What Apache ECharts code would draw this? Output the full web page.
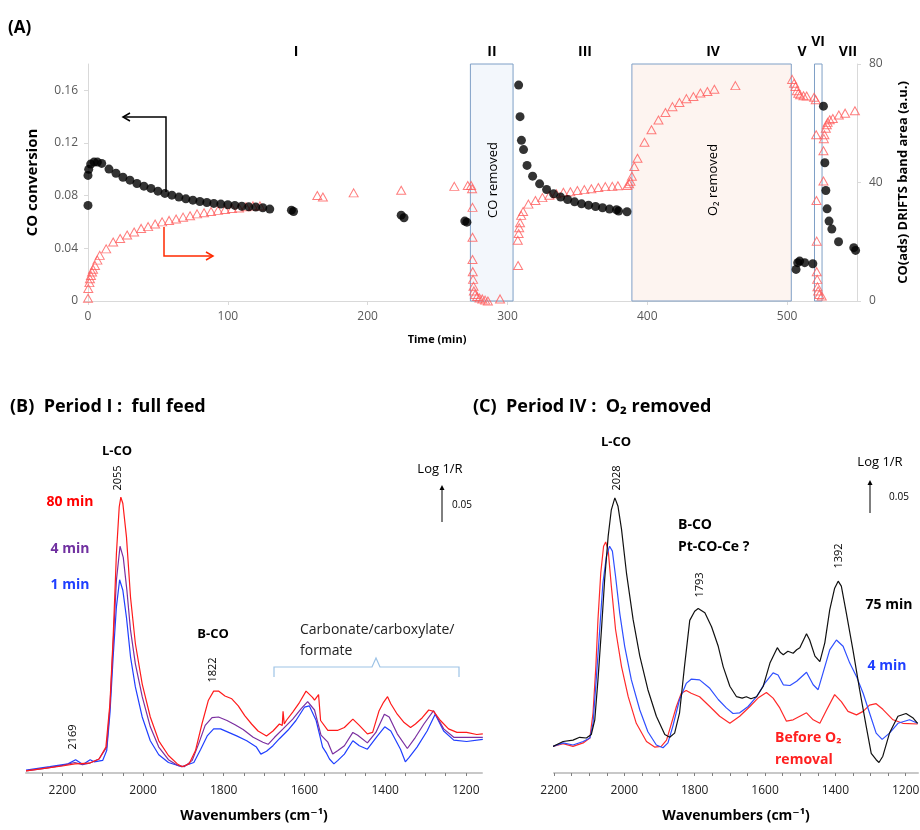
<!DOCTYPE html>
<html>
<head>
<meta charset="utf-8">
<title>CO conversion and DRIFTS spectra</title>
<script src="https://cdn.jsdelivr.net/npm/echarts@6/dist/echarts.min.js"></script>
<style>
  html, body { margin: 0; padding: 0; background: #fff; }
  #chart { width: 920px; height: 830px; }
</style>
</head>
<body>
<div id="chart"></div>
<script>
// ---- (A) transient experiment ----
var convTime = [0, 0, 0.5, 1.9, 4.3, 6.7, 9.8, 15, 20, 25, 30, 35, 40, 45, 50, 55, 60, 65, 70, 75, 80, 85, 90, 95,
  100, 105, 110, 115, 120, 125, 130, 145.5, 147, 224, 226, 269.5, 271, 308, 309, 310, 311.5, 314, 318, 323, 328,
  333, 338, 343, 348, 353, 358, 363, 368, 373, 378, 379.5, 385.5, 506.4, 507.6, 509, 512.6, 518.4, 526, 527,
  527.7, 528.6, 530, 532, 536.8, 547.7, 549]
var convValue = [0.0726, 0.0954, 0.100, 0.104, 0.1055, 0.1055, 0.1045, 0.1002, 0.097, 0.094, 0.0918, 0.0892,
  0.0872, 0.0855, 0.0834, 0.0817, 0.0804, 0.0789, 0.0776, 0.0766, 0.0756, 0.0748, 0.0741, 0.0736, 0.0731, 0.0726,
  0.0720, 0.0715, 0.0713, 0.0708, 0.0698, 0.069, 0.068, 0.0652, 0.0632, 0.0607, 0.0599, 0.164, 0.140, 0.122,
  0.115, 0.103, 0.0948, 0.089, 0.0847, 0.0814, 0.0789, 0.0771, 0.0753, 0.0738, 0.0728, 0.0718, 0.0708, 0.0698,
  0.0693, 0.0683, 0.0678, 0.024, 0.0291, 0.0303, 0.0291, 0.0283, 0.148, 0.105, 0.0839, 0.070, 0.0607, 0.0546,
  0.045, 0.0405, 0.0384]

var adsTime = [0, 0.2, 1, 1.4, 2.1, 2.9, 3.6, 5, 6.7, 8.4, 13, 18, 23, 28, 33, 38, 43, 48, 53, 58, 63, 68, 73, 78,
  83, 88, 93, 98, 103, 108, 113, 118, 123, 164, 168, 190, 224, 262, 271.6, 274, 274.7, 275, 275, 275, 275.2, 275.4,
  275.7, 276, 276.8, 278.3, 280, 282, 284, 286, 294.7, 307.6, 307.4, 308, 308.4, 309, 309.8, 311.2, 315, 320, 325,
  330, 335, 340, 345, 350, 355, 360, 365, 370, 375, 379, 385.7, 387, 388, 389, 390.7, 393, 398, 403, 408, 413, 418,
  423, 428, 433, 438, 443, 448, 463, 503.6, 505, 506, 507, 508, 509.3, 511.7, 514, 519.3, 520.5, 520.8, 521, 521.2,
  521.2, 521.5, 521.7, 522.2, 523, 524.8, 526, 526, 526.3, 526.7, 527.7, 528.4, 529, 530.5, 532.7, 537, 541.5, 548.5]
var adsArea = [0.9, 4.2, 6.2, 7.5, 8.6, 9.8, 10.7, 12.0, 13.8, 15.4, 17.6, 19.9, 21.1, 22.3, 23.3, 24.5, 25.1, 26.0,
  26.7, 27.2, 27.7, 28.3, 28.8, 29.4, 29.8, 30.2, 30.6, 30.9, 31.2, 31.4, 31.8, 32.1, 32.1, 35.6, 35.1, 36.5, 37.4,
  38.7, 39.0, 39.0, 37.9, 31.6, 21.5, 14.0, 9.9, 7.3, 5.0, 3.4, 2.2, 1.5, 1.0, 0.7, 0.3, 0, 0.7, 12.0, 20.5, 22.8,
  24.7, 26.4, 28.9, 30.2, 32.7, 33.9, 34.9, 35.7, 36.2, 36.7, 36.9, 37.3, 37.6, 37.9, 38.3, 38.6, 38.7, 38.9, 39.0,
  39.6, 40.4, 42.1, 45.4, 48.2, 53.6, 57.8, 61.1, 63.6, 65.6, 67.0, 68.3, 69.0, 70.2, 70.7, 71.5, 72.7, 74.8, 73.5,
  72.4, 71.0, 70.1, 69.6, 69.3, 69.2, 68.8, 67.9, 56.1, 33.9, 20.2, 9.9, 7.3, 4.8, 3.4, 2.2, 1.7, 40.5, 50.7, 54.8,
  56.1, 58.3, 59.5, 60.3, 61.2, 61.6, 62.8, 63.4, 64.2]

var coRemoved = [273.5, 304]
var o2Removed = [389, 503]
var periodVI = [519.6, 525]

// ---- (B) Period I : full feed ----
var wnB1 = [2290, 2231, 2186, 2167, 2149, 2131, 2121, 2100, 2090, 2082, 2074, 2066, 2058, 2050, 2041, 2031, 2019,
  2002, 1982, 1961, 1937, 1904, 1874, 1857, 1841, 1825, 1808, 1788, 1768, 1743, 1719, 1708, 1694, 1678, 1662,
  1641, 1621, 1600, 1588, 1571, 1555, 1545, 1538, 1527, 1517, 1501, 1480, 1464, 1444, 1419, 1401, 1386, 1362,
  1350, 1341, 1321, 1296, 1276, 1255, 1230, 1198, 1158]
var absB1 = [0.004, 0.009, 0.013, 0.019, 0.012, 0.019, 0.016, 0.018, 0.032, 0.085, 0.166, 0.237, 0.276, 0.261,
  0.222, 0.166, 0.123, 0.080, 0.046, 0.026, 0.015, 0.009, 0.015, 0.034, 0.053, 0.063, 0.063, 0.058, 0.053, 0.046,
  0.037, 0.027, 0.031, 0.039, 0.049, 0.061, 0.075, 0.094, 0.096, 0.075, 0.037, 0.028, 0.020, 0.013, 0.018, 0.027,
  0.046, 0.039, 0.034, 0.053, 0.066, 0.060, 0.034, 0.016, 0.022, 0.037, 0.060, 0.084, 0.060, 0.047, 0.045, 0.048]

var wnB4 = [2290, 2240, 2200, 2169, 2150, 2133, 2109, 2090, 2082, 2074, 2066, 2057, 2049, 2040, 2031, 2019, 2002,
  1982, 1961, 1937, 1915, 1898, 1878, 1862, 1846, 1829, 1813, 1792, 1772, 1752, 1727, 1703, 1690, 1674, 1653,
  1629, 1608, 1592, 1575, 1559, 1542, 1530, 1517, 1501, 1480, 1468, 1444, 1423, 1402, 1390, 1370, 1345, 1325,
  1304, 1280, 1255, 1230, 1198, 1158]
var absB4 = [0.003, 0.007, 0.011, 0.015, 0.012, 0.014, 0.020, 0.037, 0.094, 0.185, 0.275, 0.324, 0.308, 0.261,
  0.204, 0.156, 0.109, 0.066, 0.037, 0.019, 0.011, 0.009, 0.018, 0.042, 0.068, 0.079, 0.080, 0.075, 0.069, 0.062,
  0.051, 0.044, 0.041, 0.051, 0.063, 0.077, 0.092, 0.102, 0.090, 0.054, 0.044, 0.027, 0.032, 0.039, 0.058, 0.054,
  0.043, 0.058, 0.084, 0.080, 0.056, 0.035, 0.051, 0.070, 0.089, 0.063, 0.051, 0.051, 0.051]

var wnB80 = [2290, 2240, 2200, 2169, 2133, 2109, 2092, 2082, 2074, 2066, 2059, 2055, 2050, 2041, 2031, 2019, 2002,
  1982, 1961, 1937, 1915, 1903, 1886, 1870, 1854, 1838, 1825, 1813, 1797, 1780, 1764, 1748, 1731, 1715, 1694,
  1678, 1662, 1655, 1653, 1650, 1645, 1629, 1612, 1596, 1580, 1575, 1565, 1560, 1542, 1517, 1501, 1480, 1464,
  1444, 1431, 1415, 1404, 1394, 1386, 1370, 1353, 1337, 1325, 1308, 1292, 1280, 1263, 1243, 1222, 1198, 1173, 1158]
var absB80 = [0.003, 0.007, 0.010, 0.013, 0.014, 0.020, 0.037, 0.099, 0.194, 0.313, 0.380, 0.394, 0.385, 0.337,
  0.251, 0.185, 0.127, 0.080, 0.046, 0.025, 0.013, 0.009, 0.013, 0.032, 0.070, 0.104, 0.117, 0.117, 0.110, 0.106,
  0.096, 0.082, 0.070, 0.060, 0.053, 0.060, 0.070, 0.068, 0.088, 0.070, 0.075, 0.087, 0.101, 0.117, 0.108, 0.104,
  0.112, 0.075, 0.061, 0.061, 0.065, 0.077, 0.068, 0.056, 0.058, 0.089, 0.101, 0.109, 0.099, 0.084, 0.072, 0.065,
  0.070, 0.079, 0.090, 0.088, 0.075, 0.063, 0.058, 0.058, 0.055, 0.056]

// ---- (C) Period IV : O2 removed ----
var wnC75 = [2203, 2174, 2146, 2127, 2108, 2094, 2084, 2075, 2065, 2056, 2046, 2037, 2027, 2018, 2008, 1994, 1975,
  1956, 1933, 1909, 1885, 1871, 1857, 1843, 1829, 1814, 1800, 1790, 1771, 1752, 1733, 1719, 1700, 1681, 1665,
  1653, 1640, 1624, 1605, 1586, 1565, 1556, 1548, 1535, 1520, 1510, 1501, 1482, 1473, 1458, 1444, 1430, 1416,
  1402, 1392, 1383, 1369, 1350, 1331, 1312, 1298, 1284, 1276, 1265, 1246, 1222, 1199, 1180, 1166]
var absC75 = [0.038, 0.045, 0.047, 0.051, 0.050, 0.055, 0.076, 0.133, 0.205, 0.276, 0.338, 0.376, 0.393, 0.381,
  0.348, 0.286, 0.219, 0.167, 0.119, 0.081, 0.055, 0.051, 0.057, 0.086, 0.152, 0.218, 0.231, 0.235, 0.229, 0.209,
  0.181, 0.152, 0.124, 0.109, 0.107, 0.109, 0.106, 0.109, 0.124, 0.157, 0.179, 0.172, 0.169, 0.174, 0.171, 0.176,
  0.179, 0.199, 0.190, 0.167, 0.159, 0.186, 0.233, 0.264, 0.274, 0.267, 0.229, 0.176, 0.119, 0.066, 0.028, 0.019,
  0.015, 0.024, 0.057, 0.081, 0.085, 0.079, 0.071]

var wnC4 = [2203, 2174, 2146, 2117, 2098, 2089, 2080, 2070, 2061, 2051, 2042, 2034, 2025, 2013, 1999, 1980, 1956,
  1933, 1909, 1890, 1876, 1862, 1843, 1824, 1810, 1786, 1757, 1733, 1710, 1691, 1672, 1648, 1624, 1601, 1577,
  1563, 1548, 1529, 1510, 1482, 1463, 1449, 1435, 1416, 1397, 1378, 1359, 1340, 1321, 1303, 1284, 1267, 1246,
  1222, 1189, 1166]
var absC4 = [0.038, 0.043, 0.040, 0.045, 0.050, 0.071, 0.133, 0.205, 0.271, 0.309, 0.324, 0.317, 0.281, 0.228,
  0.181, 0.133, 0.090, 0.059, 0.040, 0.036, 0.043, 0.067, 0.105, 0.128, 0.134, 0.133, 0.121, 0.105, 0.093, 0.085,
  0.086, 0.095, 0.109, 0.128, 0.143, 0.140, 0.126, 0.125, 0.131, 0.144, 0.126, 0.119, 0.143, 0.176, 0.190, 0.181,
  0.157, 0.138, 0.114, 0.086, 0.057, 0.048, 0.057, 0.071, 0.076, 0.071]

var wnC0 = [2203, 2174, 2146, 2117, 2098, 2089, 2081, 2075, 2067, 2059, 2053, 2046, 2037, 2025, 2008, 1989, 1966,
  1937, 1914, 1895, 1880, 1866, 1852, 1838, 1824, 1810, 1786, 1757, 1729, 1700, 1672, 1643, 1620, 1596, 1577,
  1558, 1539, 1520, 1501, 1482, 1463, 1444, 1425, 1402, 1383, 1364, 1340, 1321, 1303, 1284, 1265, 1236, 1208, 1166]
var absC0 = [0.038, 0.042, 0.038, 0.043, 0.050, 0.086, 0.152, 0.219, 0.286, 0.324, 0.330, 0.319, 0.267, 0.205,
  0.152, 0.109, 0.071, 0.045, 0.037, 0.038, 0.047, 0.071, 0.095, 0.114, 0.118, 0.114, 0.109, 0.095, 0.081, 0.071,
  0.081, 0.095, 0.107, 0.115, 0.107, 0.093, 0.074, 0.076, 0.081, 0.086, 0.076, 0.071, 0.090, 0.112, 0.102, 0.088,
  0.083, 0.088, 0.097, 0.099, 0.091, 0.076, 0.071, 0.070]

var wnLabels = [2200, 2000, 1800, 1600, 1400, 1200]
var wnTicksB = [2250, 2200, 2150, 2100, 2050, 2000, 1950, 1900, 1850, 1800, 1750, 1700, 1650, 1600, 1550, 1500,
  1450, 1400, 1350, 1300, 1250, 1200]
var wnTicksC = [2200, 2150, 2100, 2050, 2000, 1950, 1900, 1850, 1800, 1750, 1700, 1650, 1600, 1550, 1500, 1450,
  1400, 1350, 1300, 1250, 1200]

function pairs(xs, ys) {
  return xs.map(function (x, i) { return [x, ys[i]] })
}
function plain(v) {
  return String(v)
}

var FONT = '"Open Sans", "DejaVu Sans", sans-serif'

function txt(x, y, s, opt) {
  opt = opt || {}
  return {
    type: 'text', x: x, y: y, rotation: opt.rot || 0, z: 100,
    style: {
      text: s, fontFamily: FONT, fontSize: opt.size || 13, fontWeight: opt.bold ? 'bold' : 'normal',
      fill: opt.color || '#000', align: opt.align || 'center', verticalAlign: 'middle'
    }
  }
}
function pline(points, color, width) {
  return { type: 'polyline', z: 100, shape: { points: points }, style: { stroke: color, lineWidth: width || 1, fill: null } }
}
function upArrow(x, y0, y1) {
  return [
    pline([[x, y0], [x, y1 + 4]], '#000', 1),
    { type: 'polygon', z: 100, shape: { points: [[x - 2.5, y1 + 5], [x + 2.5, y1 + 5], [x, y1]] }, style: { fill: '#000' } }
  ]
}

var graphics = [
  txt(8, 28, '(A)', { size: 17, bold: true, align: 'left' }),
  txt(296, 52, 'I', { size: 14, bold: true }),
  txt(492, 52, 'II', { size: 14, bold: true }),
  txt(585, 52, 'III', { size: 14, bold: true }),
  txt(713, 52, 'IV', { size: 14, bold: true }),
  txt(802, 52, 'V', { size: 14, bold: true }),
  txt(818, 42, 'VI', { size: 14, bold: true }),
  txt(848, 52, 'VII', { size: 14, bold: true }),
  txt(493, 180, 'CO removed', { size: 13, rot: Math.PI / 2 }),
  txt(713, 180, 'O\u2082 removed', { size: 13, rot: Math.PI / 2 }),
  txt(437, 340, 'Time (min)', { size: 11, bold: true }),
  pline([[166, 192], [166, 117], [123, 117]], '#000', 1.5),
  pline([[130, 113], [123, 117], [130, 121]], '#000', 1.5),
  pline([[164, 227], [164, 256], [213, 256]], '#ff2a00', 1.5),
  pline([[206, 252], [213, 256], [206, 260]], '#ff2a00', 1.5),

  txt(10, 407, '(B)  Period I :  full feed', { size: 18, bold: true, align: 'left' }),
  txt(117, 451, 'L-CO', { size: 13, bold: true }),
  txt(118, 478, '2055', { size: 11, rot: Math.PI / 2 }),
  txt(70, 502, '80 min', { size: 14, bold: true, color: '#ff0000' }),
  txt(70, 549, '4 min', { size: 14, bold: true, color: '#7030a0' }),
  txt(70, 585, '1 min', { size: 14, bold: true, color: '#1f3fff' }),
  txt(213, 634, 'B-CO', { size: 13, bold: true }),
  txt(213, 670, '1822', { size: 11, rot: Math.PI / 2 }),
  txt(73, 737, '2169', { size: 11, rot: Math.PI / 2 }),
  txt(300, 630, 'Carbonate/carboxylate/', { size: 14, align: 'left', color: '#222' }),
  txt(300, 651, 'formate', { size: 14, align: 'left', color: '#222' }),
  pline([[274, 677], [274, 667], [372, 667], [376, 658], [380, 667], [459, 667], [459, 677]], '#9dc3e6', 1.2),
  txt(440, 469, 'Log 1/R', { size: 13 }),
  txt(462, 505, '0.05', { size: 10 }),

  txt(473, 407, '(C)  Period IV :  O\u2082 removed', { size: 18, bold: true, align: 'left' }),
  txt(616, 442, 'L-CO', { size: 13, bold: true }),
  txt(617, 478, '2028', { size: 11, rot: Math.PI / 2 }),
  txt(678, 525, 'B-CO', { size: 14, bold: true, align: 'left' }),
  txt(678, 547, 'Pt-CO-Ce ?', { size: 14, bold: true, align: 'left' }),
  txt(700, 585, '1793', { size: 11, rot: Math.PI / 2 }),
  txt(839, 556, '1392', { size: 11, rot: Math.PI / 2 }),
  txt(889, 605, '75 min', { size: 14, bold: true }),
  txt(887, 666, '4 min', { size: 14, bold: true, color: '#1f3fff' }),
  txt(775, 738, 'Before O\u2082', { size: 14, bold: true, color: '#ff2020', align: 'left' }),
  txt(775, 760, 'removal', { size: 14, bold: true, color: '#ff2020', align: 'left' }),
  txt(880, 462, 'Log 1/R', { size: 13 }),
  txt(899, 497, '0.05', { size: 10 })
].concat(upArrow(442, 522, 485), upArrow(870, 513, 480))

var boxBorder = '#7f9fc6'
function area(range, fill) {
  return [
    { xAxis: range[0], yAxis: 0, itemStyle: { color: fill, borderColor: boxBorder, borderWidth: 1 } },
    { xAxis: range[1], yAxis: 80 }
  ]
}

var wnAxisCommon = {
  type: 'value', inverse: true,
  name: 'Wavenumbers (cm\u207B\u00B9)', nameLocation: 'middle', nameGap: 36,
  nameTextStyle: { fontFamily: FONT, fontSize: 14, fontWeight: 'bold', color: '#000' },
  axisLine: { show: true, lineStyle: { color: '#c8c8c8', width: 2 } },
  axisLabel: { customValues: wnLabels, formatter: plain, fontFamily: FONT, fontSize: 12, color: '#222', margin: 12 },
  splitLine: { show: false }
}

var chart = echarts.init(document.getElementById('chart'))
chart.setOption({
  backgroundColor: '#fff',
  animation: false,
  textStyle: { fontFamily: FONT },
  graphic: graphics,
  grid: [
    { left: 88, right: 63, top: 64, bottom: 529, outerBoundsMode: 'none' },
    { left: 26, width: 456, top: 423, bottom: 57, outerBoundsMode: 'none' },
    { left: 554, width: 364, top: 423, bottom: 57, outerBoundsMode: 'none' }
  ],
  xAxis: [
    {
      gridIndex: 0, type: 'value', min: 0, max: 550, interval: 100,
      axisLine: { lineStyle: { color: '#d9d9d9' } },
      axisTick: { show: true, length: 4, lineStyle: { color: '#d9d9d9' } },
      axisLabel: { showMaxLabel: false, formatter: plain, fontFamily: FONT, fontSize: 12, color: '#595959', margin: 10 },
      splitLine: { show: false }
    },
    Object.assign({}, wnAxisCommon, {
      gridIndex: 1, min: 1160, max: 2290,
      axisTick: { show: true, customValues: wnTicksB, length: 3, lineStyle: { color: '#808080' } }
    }),
    Object.assign({}, wnAxisCommon, {
      gridIndex: 2, min: 1165, max: 2200,
      axisTick: { show: true, customValues: wnTicksC, length: 3, lineStyle: { color: '#808080' } }
    })
  ],
  yAxis: [
    {
      gridIndex: 0, type: 'value', min: 0, max: 0.18, interval: 0.04,
      name: 'CO conversion', nameLocation: 'middle', nameGap: 48,
      nameTextStyle: { fontFamily: FONT, fontSize: 15, fontWeight: 'bold', color: '#000' },
      axisLine: { show: true, lineStyle: { color: '#d9d9d9' } },
      axisTick: { show: true, length: 4, lineStyle: { color: '#d9d9d9' } },
      axisLabel: { showMaxLabel: false, fontFamily: FONT, fontSize: 12, color: '#595959', margin: 10 },
      splitLine: { show: false }
    },
    {
      gridIndex: 0, type: 'value', position: 'right', min: 0, max: 80, interval: 40,
      name: 'CO(ads) DRIFTS band area (a.u.)', nameLocation: 'middle', nameGap: 40,
      nameTextStyle: { fontFamily: FONT, fontSize: 13, fontWeight: 'bold', color: '#000' },
      axisLine: { show: true, lineStyle: { color: '#d9d9d9' } },
      axisTick: { show: true, length: 4, lineStyle: { color: '#d9d9d9' } },
      axisLabel: { fontFamily: FONT, fontSize: 12, color: '#595959', margin: 12 },
      splitLine: { show: false }
    },
    { gridIndex: 1, type: 'value', min: 0, max: 0.5, show: false },
    { gridIndex: 2, type: 'value', min: 0, max: 0.5, show: false }
  ],
  series: [
    {
      name: 'periods', type: 'scatter', xAxisIndex: 0, yAxisIndex: 1, z: 1, data: [],
      markArea: {
        silent: true,
        data: [
          area(coRemoved, '#f3f7fc'),
          area(o2Removed, '#fdf4f0'),
          area(periodVI, 'rgba(255,255,255,0)')
        ]
      }
    },
    {
      name: 'CO(ads) band area', type: 'scatter', xAxisIndex: 0, yAxisIndex: 1, z: 2,
      symbol: 'triangle', symbolSize: [9, 8],
      itemStyle: { color: 'rgba(255,255,255,0)', borderColor: '#ff5c5c', borderWidth: 1 },
      data: pairs(adsTime, adsArea)
    },
    {
      name: 'CO conversion', type: 'scatter', xAxisIndex: 0, yAxisIndex: 0, z: 3,
      symbol: 'circle', symbolSize: 9,
      itemStyle: { color: '#000' },
      data: pairs(convTime, convValue)
    },
    {
      name: '1 min', type: 'line', xAxisIndex: 1, yAxisIndex: 2, showSymbol: false, symbol: 'none',
      lineStyle: { color: '#1f3fff', width: 1.2 }, data: pairs(wnB1, absB1)
    },
    {
      name: '4 min', type: 'line', xAxisIndex: 1, yAxisIndex: 2, showSymbol: false, symbol: 'none',
      lineStyle: { color: '#7b2fa0', width: 1.2 }, data: pairs(wnB4, absB4)
    },
    {
      name: '80 min', type: 'line', xAxisIndex: 1, yAxisIndex: 2, showSymbol: false, symbol: 'none',
      lineStyle: { color: '#ff1a1a', width: 1.2 }, data: pairs(wnB80, absB80)
    },
    {
      name: 'Before O2 removal', type: 'line', xAxisIndex: 2, yAxisIndex: 3, showSymbol: false, symbol: 'none',
      lineStyle: { color: '#ff2a2a', width: 1.2 }, data: pairs(wnC0, absC0)
    },
    {
      name: '4 min (IV)', type: 'line', xAxisIndex: 2, yAxisIndex: 3, showSymbol: false, symbol: 'none',
      lineStyle: { color: '#2f4fff', width: 1.2 }, data: pairs(wnC4, absC4)
    },
    {
      name: '75 min', type: 'line', xAxisIndex: 2, yAxisIndex: 3, showSymbol: false, symbol: 'none',
      lineStyle: { color: '#111', width: 1.2 }, data: pairs(wnC75, absC75)
    }
  ]
})
</script>
</body>
</html>
